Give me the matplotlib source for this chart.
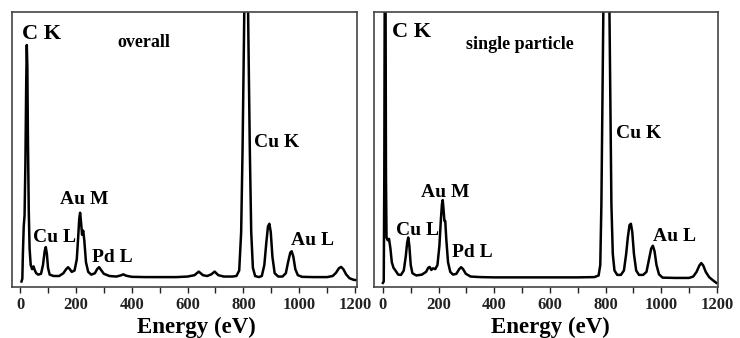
import numpy as np
import matplotlib.pyplot as plt

# ============================================================
# Spectra (intensity in arbitrary units)
# ============================================================

overall_energy = [
    5, 8, 10, 13, 16, 19, 22, 24, 26, 28, 31, 34, 38, 43, 48, 53, 58, 65, 75,
    82, 88, 92, 96, 100, 106, 120, 140, 155, 165, 172, 178, 185, 195, 203,
    208, 212, 215, 218, 222, 226, 230, 236, 244, 255, 268, 276, 283, 290,
    300, 320, 345, 360, 370, 380, 400, 450, 500, 560, 600, 625, 640, 655,
    670, 685, 697, 710, 730, 760, 775, 785, 792, 797, 802, 806, 810, 814,
    818, 823, 828, 834, 842, 855, 866, 875, 882, 888, 893, 898, 904, 912,
    925, 940, 952, 960, 968, 973, 979, 986, 995, 1010, 1050, 1100, 1120,
    1132, 1142, 1150, 1158, 1168, 1180, 1195, 1205,
]
overall_counts = [
    2, 3, 12, 22, 26, 45, 75, 88, 80, 55, 28, 14, 8, 6.5, 7.5, 6, 5, 4.5, 4.8,
    8, 13, 14.5, 12, 7, 4.5, 4, 4, 5, 6.5, 7.2, 6.5, 5.5, 6, 10,
    18, 25, 27, 24, 19, 20.5, 17, 9, 5.5, 4.5, 5, 6.5, 7.2, 6.2,
    4.8, 4, 3.8, 4.2, 4.6, 4.1, 3.7, 3.6, 3.6, 3.6, 3.8, 4.3, 5.6, 4.3,
    4, 4.6, 5.6, 4.3, 3.8, 3.8, 4, 6, 20, 50, 90, 125, 135, 125,
    90, 50, 20, 7, 4, 3.6, 4, 8, 16, 22, 23, 20, 11, 5,
    3.8, 3.8, 5, 9, 12.5, 13, 11, 6.5, 4.3, 3.7, 3.6, 3.6, 4,
    5.2, 6.8, 7.3, 6.5, 4.6, 3.2, 2.6, 2.5,
]

single_energy = [
    0, 3, 5, 7, 9, 11, 13, 17, 22, 27, 32, 38, 45, 55, 65, 75, 82, 87, 91,
    95, 100, 106, 120, 140, 155, 163, 168, 174, 180, 188, 196, 203, 208,
    212, 215, 218, 221, 224, 228, 234, 242, 252, 264, 274, 281, 288, 298,
    315, 350, 400, 500, 600, 700, 760, 775, 781, 785, 789, 794, 800, 806,
    812, 817, 821, 826, 832, 842, 855, 866, 874, 880, 886, 891, 896, 902,
    910, 920, 935, 947, 956, 964, 970, 976, 983, 992, 1005, 1050, 1100,
    1115, 1127, 1137, 1144, 1151, 1160, 1172, 1185, 1198,
]
single_counts = [
    1.5, 2, 40, 130, 130, 40, 18, 17, 17.5, 14, 9, 7, 6, 4.5, 4.4, 6, 11, 16, 18,
    15, 8, 5, 4.2, 4.5, 5.5, 7, 7.3, 6.2, 6.8, 6.5, 8, 15, 24,
    30, 31.6, 28, 24, 24, 17, 9, 5.5, 4.5, 4.8, 6.5, 7.2, 6.5, 4.8,
    3.8, 3.6, 3.5, 3.5, 3.5, 3.5, 3.6, 4.2, 8, 30, 70, 120, 140, 140,
    120, 70, 30, 12, 6, 4.4, 4.4, 6, 12, 18, 22.5, 23, 20, 12,
    6, 4.4, 4.4, 5.5, 10, 14, 15, 13, 8, 4.6, 3.4, 3.3, 3.3,
    3.8, 5.5, 7.8, 8.7, 7.8, 5.5, 3.6, 2.5, 1.5,
]

peak_names = ["Cu L", "Au M", "Pd L", "Cu K", "Au L"]
panel_titles = ["overall", "single particle"]
xticks = [0, 200, 400, 600, 800, 1000, 1200]


# ============================================================
# Layout / label placement (data coordinates)
# ============================================================

FONT = "Liberation Serif"
plt.rcParams["font.family"] = FONT
plt.rcParams["font.weight"] = "bold"

fig = plt.figure(figsize=(7.4, 3.38), dpi=100)
ax_l = fig.add_axes([12 / 740, 51 / 338, 345 / 740, 275 / 338])
ax_r = fig.add_axes([374 / 740, 51 / 338, 344 / 740, 275 / 338])

panels = [
    (ax_l, overall_energy, overall_counts, (-29, 1207),
     (7, 90.2), (348, 87.4),
     [(47, 16.5), (144, 30.2), (259, 9.2), (837, 51), (970, 15.3)], 0.533),
    (ax_r, single_energy, single_counts, (-32, 1204),
     (32, 90.8), (298, 86.4),
     [(47, 18.9), (137, 32.6), (248, 11), (837, 54), (970, 16.8)], 0.512),
]

for i, (ax, e, c, xl, ck_pos, title_pos, lab_pos, xlab_x) in enumerate(panels):
    ax.plot(e, c, color="black", lw=1.8, solid_joinstyle="round")
    ax.set_xlim(*xl)
    ax.set_ylim(0, 100)
    ax.set_yticks([])
    ax.set_xticks(xticks)
    ax.set_xticks(np.arange(100, 1200, 200), minor=True)
    ax.tick_params(axis="x", which="both", direction="out", length=4,
                   width=1, pad=3, labelsize=12, colors="#222")
    for lbl in ax.get_xticklabels():
        lbl.set_fontweight("bold")
    for sp in ax.spines.values():
        sp.set_color("#444")
        sp.set_linewidth(1.2)

    ax.text(*ck_pos, "C K", fontsize=16, fontweight="bold", va="baseline")
    ax.text(*title_pos, panel_titles[i], fontsize=13, fontweight="bold",
            va="baseline")
    for name, pos in zip(peak_names, lab_pos):
        ax.text(*pos, name, fontsize=14, fontweight="bold", va="baseline")

    ax.text(xlab_x, -0.167, "Energy (eV)", transform=ax.transAxes,
            ha="center", va="baseline", fontsize=16.5, fontweight="bold")

fig.savefig("out.png", dpi=100)
